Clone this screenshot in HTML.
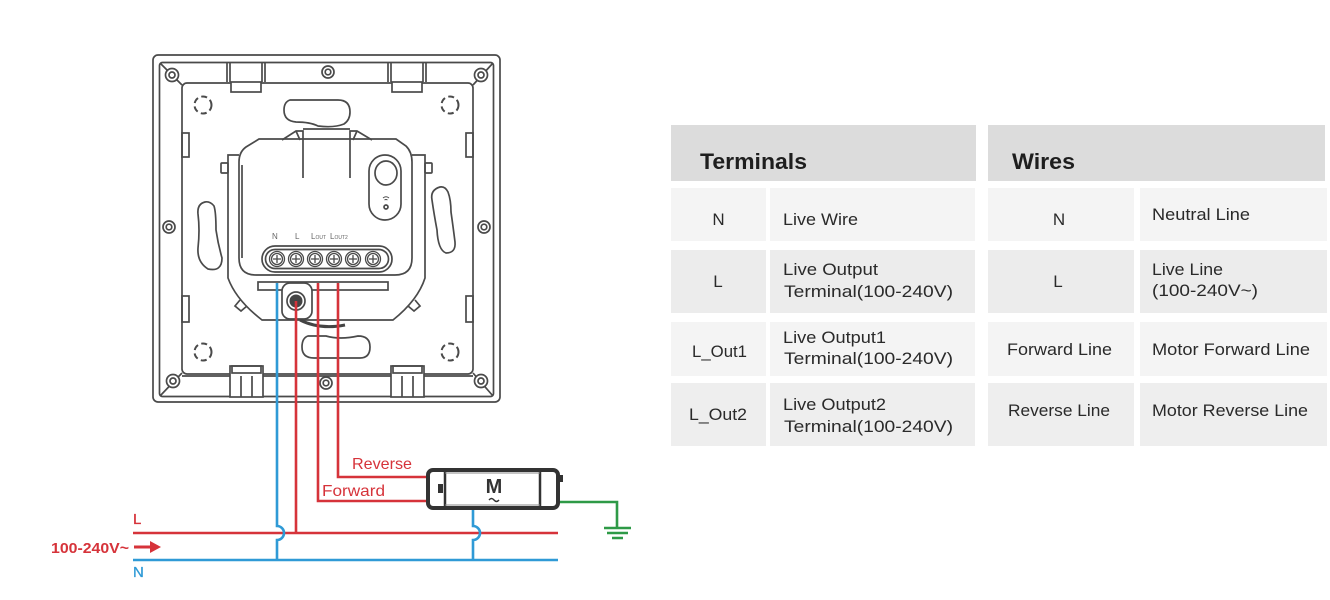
<!DOCTYPE html>
<html><head><meta charset="utf-8"><style>
html,body{margin:0;padding:0;background:#fff;}
svg{display:block;}
</style></head><body>
<svg width="1330" height="600" viewBox="0 0 1330 600" xmlns="http://www.w3.org/2000/svg" font-family="Liberation Sans, sans-serif">
<rect width="1330" height="600" fill="#fff"/>
<!-- ===== DEVICE ===== -->
<g fill="none" stroke="#4a4a4a" stroke-width="1.7">
  <rect x="153" y="55" width="347" height="347" rx="5" fill="#fff"/>
  <rect x="159.5" y="62.5" width="334" height="334" rx="3"/>
  <rect x="182" y="83" width="291" height="291" rx="5"/>
  <line x1="182" y1="376" x2="473" y2="376"/>
  <line x1="160" y1="63" x2="182" y2="85"/>
  <line x1="493" y1="63" x2="473" y2="85"/>
  <line x1="160" y1="396" x2="182" y2="373"/>
  <line x1="493" y1="396" x2="473" y2="373"/>
  <!-- top tabs -->
  <path d="M227,63 V82 M230,63 V82 M262,63 V82 M265,63 V82"/>
  <rect x="231" y="82" width="30" height="10" fill="#fff"/>
  <path d="M388,63 V82 M391,63 V82 M423,63 V82 M426,63 V82"/>
  <rect x="392" y="82" width="30" height="10" fill="#fff"/>
  <!-- bottom tabs -->
  <rect x="230" y="366" width="33" height="31" fill="#fff"/>
  <rect x="232" y="366" width="29" height="7"/>
  <path d="M241,376 V397 M252,376 V397"/>
  <rect x="391" y="366" width="33" height="31" fill="#fff"/>
  <rect x="393" y="366" width="29" height="7"/>
  <path d="M402,376 V397 M413,376 V397"/>
  <!-- side tabs -->
  <rect x="182" y="133" width="7" height="24"/>
  <rect x="182" y="296" width="7" height="26"/>
  <rect x="466" y="133" width="7" height="24"/>
  <rect x="466" y="296" width="7" height="26"/>
  <!-- screw holes -->
  <g fill="#fff">
    <circle cx="172" cy="75" r="6.5"/><circle cx="172" cy="75" r="3"/>
    <circle cx="328" cy="72" r="6"/><circle cx="328" cy="72" r="2.8"/>
    <circle cx="481" cy="75" r="6.5"/><circle cx="481" cy="75" r="3"/>
    <circle cx="169" cy="227" r="6"/><circle cx="169" cy="227" r="2.8"/>
    <circle cx="484" cy="227" r="6"/><circle cx="484" cy="227" r="2.8"/>
    <circle cx="173" cy="381" r="6.5"/><circle cx="173" cy="381" r="3"/>
    <circle cx="326" cy="383" r="6"/><circle cx="326" cy="383" r="2.8"/>
    <circle cx="481" cy="381" r="6.5"/><circle cx="481" cy="381" r="3"/>
  </g>
  <!-- dashed circles -->
  <g stroke-dasharray="6 3.5" stroke-width="2">
    <circle cx="203" cy="105" r="8.5"/>
    <circle cx="450" cy="105" r="8.5"/>
    <circle cx="203" cy="352" r="8.5"/>
    <circle cx="450" cy="352" r="8.5"/>
  </g>
  <!-- slots -->
  <path d="M290,100 Q284,102 284,110 Q284,121 296,122 Q310,122 318,126 Q334,128 344,124 Q350,120 350,112 Q350,100 338,100 Z"/>
  <path d="M308,336 Q302,338 302,347 Q302,358 314,358 H360 Q370,358 370,347 Q370,336 358,336 Q340,340 326,336 Z"/>
  <path d="M205,202 Q197,204 198,214 Q200,230 198,248 Q197,262 208,269 Q222,272 222,258 Q218,244 216,230 Q216,212 214,206 Q210,201 205,202 Z"/>
  <path d="M440,187 Q430,190 432,200 Q434,214 437,230 Q438,250 446,253 Q456,253 455,242 Q453,226 451,212 Q451,200 448,192 Q445,186 440,187 Z"/>
  <!-- module casing -->
  <path d="M239,155 H228 V278 Q236,300 262,320 H393 Q418,300 425,278 V155 H412" fill="#fff"/>
  <rect x="221" y="163" width="7" height="10" rx="1"/>
  <rect x="425" y="163" width="7" height="10" rx="1"/>
  <path d="M240,300 l-5,6 l6,5 l6,-5 M415,300 l5,6 l-6,5 l-6,-5"/>
  <!-- body -->
  <path d="M239,162 Q239,152 246,147 L259,139 H396 L406,146 Q412,152 412,162 V258 Q412,275 395,275 H256 Q239,275 239,258 Z" fill="#fff"/>
  <path d="M242,165 V258"/>
  <!-- top block -->
  <path d="M282,140 L296,131 H303 V178 M303,129 H350 M350,178 V131 H357 L372,140"/>
  <path d="M296,131 L300,140 M357,131 L353,140"/>
  <!-- button -->
  <rect x="369" y="155" width="32" height="65" rx="16"/>
  <ellipse cx="386" cy="173" rx="11" ry="12"/>
  <circle cx="386" cy="207" r="2"/>
  <path d="M383,198 Q386,195.5 389,198 M384.5,200 Q386,199 387.5,200" stroke-width="1"/>
  <!-- terminal strip -->
  <rect x="262" y="246" width="130" height="26" rx="13" fill="#fff"/>
  <rect x="265.5" y="249.5" width="123" height="19" rx="9.5"/>
  <g stroke-width="1.3">
    <circle cx="277" cy="259" r="7.5"/><circle cx="277" cy="259" r="5.5"/>
    <circle cx="296" cy="259" r="7.5"/><circle cx="296" cy="259" r="5.5"/>
    <circle cx="315" cy="259" r="7.5"/><circle cx="315" cy="259" r="5.5"/>
    <circle cx="334" cy="259" r="7.5"/><circle cx="334" cy="259" r="5.5"/>
    <circle cx="353" cy="259" r="7.5"/><circle cx="353" cy="259" r="5.5"/>
    <circle cx="373" cy="259" r="7.5"/><circle cx="373" cy="259" r="5.5"/>
    <path d="M273,259 h8 M277,255 v8 M292,259 h8 M296,255 v8 M311,259 h8 M315,255 v8 M330,259 h8 M334,255 v8 M349,259 h8 M353,255 v8 M369,259 h8 M373,255 v8"/>
  </g>
  <!-- bottom bracket and knob -->
  <rect x="258" y="282" width="130" height="8" fill="#fff"/>
  <rect x="282" y="283" width="30" height="36" rx="8" fill="#fff"/>
  <circle cx="296" cy="301" r="9"/>
  <path d="M300,320 Q320,330 345,325" stroke="#444" stroke-width="3"/>
</g>
<circle cx="296" cy="301" r="6.5" fill="#444"/>
<g fill="#666" font-size="8">
  <text x="272" y="239">N</text>
  <text x="295" y="239">L</text>
  <text x="311" y="239">L<tspan font-size="5">OUT</tspan></text>
  <text x="330" y="239">L<tspan font-size="5">OUT2</tspan></text>
</g>

<!-- ===== WIRING ===== -->
<g fill="none" stroke-width="2.6">
  <path d="M133,533 H558" stroke="#d6333a"/>
  <path d="M133,560 H558" stroke="#2f9ad6"/>
  <path d="M277,283 V526 A7,7 0 0 1 277,540 V560" stroke="#2f9ad6"/>
  <path d="M296,301 V533" stroke="#d6333a"/>
  <path d="M318,283 V501 H428" stroke="#d6333a"/>
  <path d="M338,283 V477 H428" stroke="#d6333a"/>
  <path d="M473,509 V526 A7,7 0 0 1 473,540 V560" stroke="#2f9ad6"/>
  <path d="M560,502 H617 V528" stroke="#2e9a47"/>
  <path d="M604,528 H631 M607,533 H628 M612,538 H623" stroke="#2e9a47" stroke-width="2.4"/>
</g>
<!-- motor -->
<rect x="428" y="470" width="130" height="38" rx="5" fill="#fff" stroke="#333" stroke-width="4"/>
<path d="M445,471 V507 M540,471 V507" stroke="#333" stroke-width="2.5"/>
<path d="M445,473 H540 M445,505 H540" stroke="#888" stroke-width="1"/>
<rect x="438" y="484" width="5" height="9" fill="#333"/>
<rect x="558" y="475" width="5" height="7" fill="#333"/>
<text x="494" y="493" font-size="20" font-weight="bold" fill="#333" text-anchor="middle">M</text>
<path d="M489,500 q2.5,-3 5,0 q2.5,3 5,0" fill="none" stroke="#333" stroke-width="1.4"/>
<!-- arrow -->
<path d="M134,547 H152" stroke="#d6333a" stroke-width="3"/>
<path d="M150,541 L161,547 L150,553 Z" fill="#d6333a"/>
<g font-size="16" fill="#d6333a">
  <text x="352" y="469" textLength="60" lengthAdjust="spacingAndGlyphs">Reverse</text>
  <text x="322" y="496" textLength="63" lengthAdjust="spacingAndGlyphs">Forward</text>
</g>
<text x="133" y="524" font-size="15" fill="#d6333a" stroke="#d6333a" stroke-width="0.3">L</text>
<text x="133" y="577" font-size="15" fill="#2f9ad6" stroke="#2f9ad6" stroke-width="0.3">N</text>
<text x="51" y="553" font-size="15" font-weight="bold" fill="#d6333a" textLength="78" lengthAdjust="spacingAndGlyphs">100-240V~</text>

<!-- ===== TABLES ===== -->
<rect x="671" y="125" width="305" height="56" fill="#dcdcdc"/>
<rect x="988" y="125" width="337" height="56" fill="#dcdcdc"/>
<g>
  <rect x="671" y="188" width="95" height="53" fill="#f4f4f4"/>
  <rect x="770" y="188" width="205" height="53" fill="#f4f4f4"/>
  <rect x="988" y="188" width="146" height="53" fill="#f4f4f4"/>
  <rect x="1140" y="188" width="187" height="53" fill="#f4f4f4"/>

  <rect x="671" y="250" width="95" height="63" fill="#ececec"/>
  <rect x="770" y="250" width="205" height="63" fill="#ececec"/>
  <rect x="988" y="250" width="146" height="63" fill="#ececec"/>
  <rect x="1140" y="250" width="187" height="63" fill="#ececec"/>

  <rect x="671" y="322" width="95" height="54" fill="#f4f4f4"/>
  <rect x="770" y="322" width="205" height="54" fill="#f4f4f4"/>
  <rect x="988" y="322" width="146" height="54" fill="#f4f4f4"/>
  <rect x="1140" y="322" width="187" height="54" fill="#f4f4f4"/>

  <rect x="671" y="383" width="95" height="63" fill="#eeeeee"/>
  <rect x="770" y="383" width="205" height="63" fill="#eeeeee"/>
  <rect x="988" y="383" width="146" height="63" fill="#eeeeee"/>
  <rect x="1140" y="383" width="187" height="63" fill="#eeeeee"/>
</g>
<g font-size="22" font-weight="bold" fill="#1e1e1e">
  <text x="700" y="169" textLength="107" lengthAdjust="spacingAndGlyphs">Terminals</text>
  <text x="1012" y="169" textLength="63" lengthAdjust="spacingAndGlyphs">Wires</text>
</g>
<g font-size="17" fill="#2a2a2a">
  <text x="718.5" y="225" text-anchor="middle">N</text>
  <text x="783" y="225" textLength="75" lengthAdjust="spacingAndGlyphs">Live Wire</text>
  <text x="718" y="287" text-anchor="middle">L</text>
  <text x="783" y="275" textLength="95" lengthAdjust="spacingAndGlyphs">Live Output</text>
  <text x="784" y="297" textLength="169" lengthAdjust="spacingAndGlyphs">Terminal(100-240V)</text>
  <text x="692" y="357" textLength="55" lengthAdjust="spacingAndGlyphs">L_Out1</text>
  <text x="783" y="343" textLength="103" lengthAdjust="spacingAndGlyphs">Live Output1</text>
  <text x="784" y="364" textLength="169" lengthAdjust="spacingAndGlyphs">Terminal(100-240V)</text>
  <text x="689" y="420" textLength="58" lengthAdjust="spacingAndGlyphs">L_Out2</text>
  <text x="783" y="410" textLength="103" lengthAdjust="spacingAndGlyphs">Live Output2</text>
  <text x="784" y="432" textLength="169" lengthAdjust="spacingAndGlyphs">Terminal(100-240V)</text>

  <text x="1059" y="225" text-anchor="middle">N</text>
  <text x="1152" y="220" textLength="98" lengthAdjust="spacingAndGlyphs">Neutral Line</text>
  <text x="1058" y="287" text-anchor="middle">L</text>
  <text x="1152" y="275" textLength="71" lengthAdjust="spacingAndGlyphs">Live Line</text>
  <text x="1152" y="296" textLength="106" lengthAdjust="spacingAndGlyphs">(100-240V~)</text>
  <text x="1007" y="355" textLength="105" lengthAdjust="spacingAndGlyphs">Forward Line</text>
  <text x="1152" y="355" textLength="158" lengthAdjust="spacingAndGlyphs">Motor Forward Line</text>
  <text x="1008" y="416" textLength="102" lengthAdjust="spacingAndGlyphs">Reverse Line</text>
  <text x="1152" y="416" textLength="156" lengthAdjust="spacingAndGlyphs">Motor Reverse Line</text>
</g>
</svg>
</body></html>
